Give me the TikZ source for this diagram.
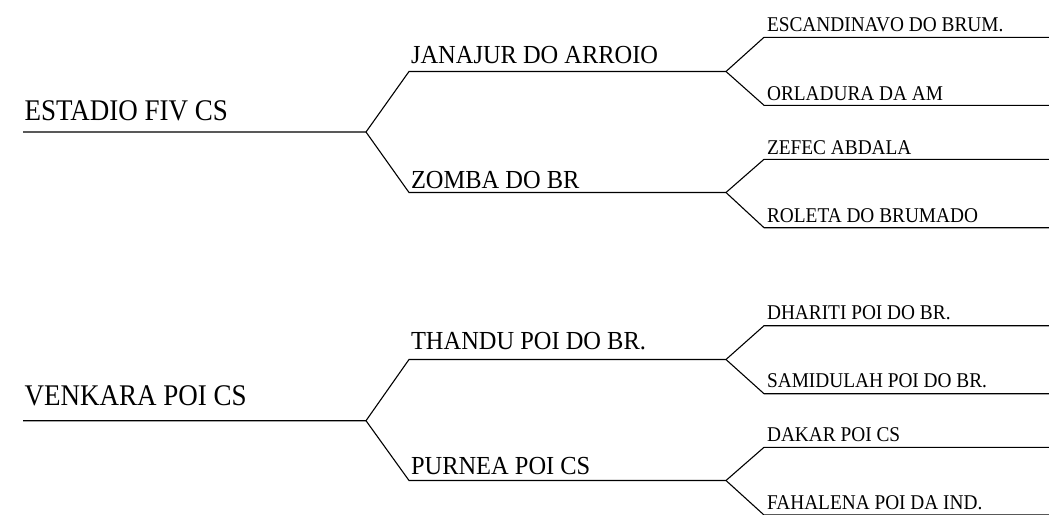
\documentclass[tikz,border=0pt]{standalone}
\usepackage{fontspec}
\usepackage{graphicx}
\setmainfont{Liberation Serif}
\newcommand{\rootlbl}[1]{\scalebox{0.9}[1]{#1}}
\newcommand{\midlbl}[1]{\scalebox{0.94}[1]{#1}}
\newcommand{\leaflbl}[1]{\scalebox{0.92}[1]{#1}}
\begin{document}
\begin{tikzpicture}[x=1pt,y=-1pt,line width=1.1pt,
  rootname/.style={anchor=base west,inner sep=0pt,font=\fontsize{30}{30}\selectfont},
  midname/.style={anchor=base west,inner sep=0pt,font=\fontsize{26}{26}\selectfont},
  leafname/.style={anchor=base west,inner sep=0pt,font=\fontsize{21}{21}\selectfont},
  branch/.style={draw=black,line width=1.1pt}]
\useasboundingbox (0,0) rectangle (1049,514);

% ---------- group 1 ----------
\coordinate (r1s) at (23,132);   \coordinate (r1e) at (366,132);
\coordinate (a1s) at (409,71.5); \coordinate (a1e) at (726,71.5);
\coordinate (a2s) at (409,192.5);\coordinate (a2e) at (726,192.5);
\coordinate (b1s) at (764,37.3); \coordinate (b1e) at (1049,37.3);
\coordinate (b2s) at (764,105.3);\coordinate (b2e) at (1049,105.3);
\coordinate (b3s) at (764,159.3);\coordinate (b3e) at (1049,159.3);
\coordinate (b4s) at (764,227.7);\coordinate (b4e) at (1049,227.7);

\node[rootname] (n1) at (24,120) {\rootlbl{ESTADIO FIV CS}};
\node[midname] (n11) at (410.5,63) {\midlbl{JANAJUR DO ARROIO}};
\node[midname] (n12) at (410.5,188) {\midlbl{ZOMBA DO BR}};
\node[leafname] (n111) at (766.5,31.7) {\leaflbl{ESCANDINAVO DO BRUM.}};
\node[leafname] (n112) at (766.5,100) {\leaflbl{ORLADURA DA AM}};
\node[leafname] (n121) at (766.5,154) {\leaflbl{ZEFEC ABDALA}};
\node[leafname] (n122) at (766.5,222.7) {\leaflbl{ROLETA DO BRUMADO}};

\draw[branch] (r1s) -- (r1e) -- (a1s) -- (a1e);
\draw[branch] (r1e) -- (a2s) -- (a2e);
\draw[branch] (a1e) -- (b1s) -- (b1e);
\draw[branch] (a1e) -- (b2s) -- (b2e);
\draw[branch] (a2e) -- (b3s) -- (b3e);
\draw[branch] (a2e) -- (b4s) -- (b4e);

% ---------- group 2 ----------
\coordinate (r2s) at (23,420.7);   \coordinate (r2e) at (366,420.7);
\coordinate (c1s) at (409,359.5);  \coordinate (c1e) at (726,359.5);
\coordinate (c2s) at (409,480.5);  \coordinate (c2e) at (726,480.5);
\coordinate (d1s) at (764,325.7);  \coordinate (d1e) at (1049,325.7);
\coordinate (d2s) at (764,393.7);  \coordinate (d2e) at (1049,393.7);
\coordinate (d3s) at (764,447.3);  \coordinate (d3e) at (1049,447.3);
\coordinate (d4s) at (764,515);    \coordinate (d4e) at (1049,515);

\node[rootname] (n2) at (24,405) {\rootlbl{VENKARA POI CS}};
\node[midname] (n21) at (410.5,349.5) {\midlbl{THANDU POI DO BR.}};
\node[midname] (n22) at (410.5,474.5) {\midlbl{PURNEA POI CS}};
\node[leafname] (n211) at (766.5,319.5) {\leaflbl{DHARITI POI DO BR.}};
\node[leafname] (n212) at (766.5,387.7) {\leaflbl{SAMIDULAH POI DO BR.}};
\node[leafname] (n221) at (766.5,441.7) {\leaflbl{DAKAR POI CS}};
\node[leafname] (n222) at (766.5,509.3) {\leaflbl{FAHALENA POI DA IND.}};

\draw[branch] (r2s) -- (r2e) -- (c1s) -- (c1e);
\draw[branch] (r2e) -- (c2s) -- (c2e);
\draw[branch] (c1e) -- (d1s) -- (d1e);
\draw[branch] (c1e) -- (d2s) -- (d2e);
\draw[branch] (c2e) -- (d3s) -- (d3e);
\draw[branch] (c2e) -- (d4s) -- (d4e);
\end{tikzpicture}
\end{document}
